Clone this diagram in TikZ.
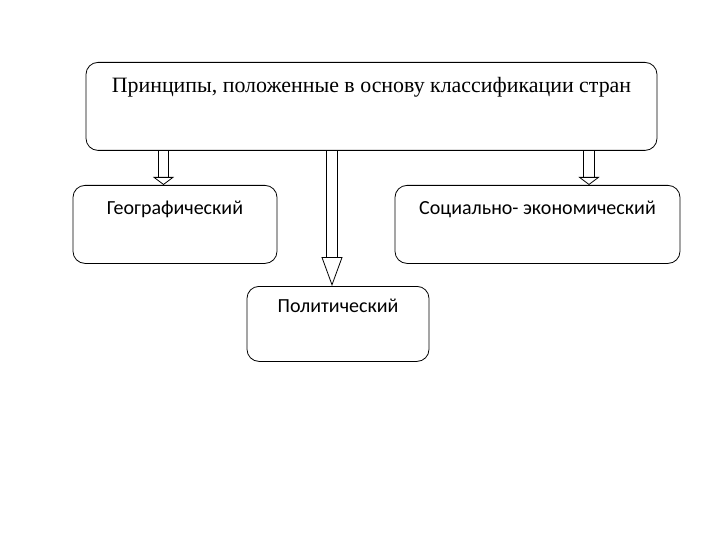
\documentclass[tikz,border=0pt]{standalone}
\usepackage{fontspec}
\setmainfont{Liberation Serif}
\newfontfamily\calibri{Carlito}
\usetikzlibrary{arrows.meta}

\tikzset{
  box/.style={draw, line width=0.8pt, rounded corners=12pt, inner sep=0pt, anchor=north},
  labelbox/.style={box, font=\calibri\fontsize{20}{22}\selectfont, text height=#1, text depth=49pt},
  blockarrow/.style={double, double distance=9.5pt, line width=0.8pt,
    -{Triangle[open, length=#1, width=21pt, line width=0.8pt]}}
}

\begin{document}
\begin{tikzpicture}[x=1pt, y=-1pt]
  \useasboundingbox (0,0) rectangle (720,540);

  % главный блок
  \node[box, font=\fontsize{21.9}{24}\selectfont, minimum width=571pt,
    text height=30pt, text depth=58pt] (principles) at (371.5,62)
    {Принципы, положенные в основу классификации стран};

  % три признака
  \node[labelbox=29pt, minimum width=204pt] (geo) at (175,185) {Географический};
  \node[labelbox=29pt, minimum width=285pt] (socio) at (537.5,185) {Социально- экономический};
  \node[labelbox=26pt, minimum width=182pt] (polit) at (338,286) {Политический};

  % стрелки
  \coordinate (geoarrow) at ([xshift=-11.5pt]geo.north);
  \coordinate (politarrow) at ([xshift=-6pt]polit.north);
  \coordinate (socioarrow) at ([xshift=51.5pt]socio.north);

  \draw[blockarrow=8pt] (principles.south -| geoarrow) -- (geoarrow);
  \draw[blockarrow=29pt] (principles.south -| politarrow) -- (politarrow);
  \draw[blockarrow=8pt] (principles.south -| socioarrow) -- (socioarrow);
\end{tikzpicture}
\end{document}
